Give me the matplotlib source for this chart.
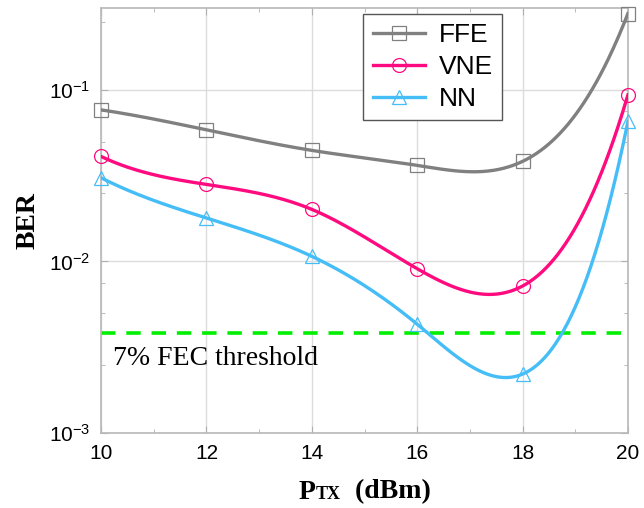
import numpy as np
import matplotlib.pyplot as plt
from matplotlib.ticker import LogLocator, NullFormatter, MultipleLocator
from matplotlib.offsetbox import TextArea, HPacker, AnchoredOffsetbox

plt.rcParams['font.family'] = 'Liberation Sans'
plt.rcParams['mathtext.fontset'] = 'custom'
plt.rcParams['mathtext.rm'] = 'Liberation Sans'
plt.rcParams['mathtext.it'] = 'Liberation Sans:italic'
plt.rcParams['mathtext.bf'] = 'Liberation Sans:bold'

# data
ptx = [10, 12, 14, 16, 18, 20]
ber_ffe = [0.0765, 0.0585, 0.0444, 0.0363, 0.0383, 0.279]
ber_vne = [0.0409, 0.0281, 0.0201, 0.00906, 0.00718, 0.0935]
ber_nn = [0.0307, 0.0179, 0.0107, 0.0043, 0.0022, 0.0655]
fec_threshold = 3.83e-3
series_names = ['FFE', 'VNE', 'NN']


def spline(x, y, xs):
    # not-a-knot cubic spline (like matlab's spline)
    x = np.asarray(x, float)
    y = np.asarray(y, float)
    n = len(x)
    h = np.diff(x)
    A = np.zeros((n, n))
    b = np.zeros(n)
    A[0, 0], A[0, 1], A[0, 2] = -1 / h[0], 1 / h[0] + 1 / h[1], -1 / h[1]
    A[-1, -3], A[-1, -2], A[-1, -1] = -1 / h[-2], 1 / h[-2] + 1 / h[-1], -1 / h[-1]
    for i in range(1, n - 1):
        A[i, i - 1] = h[i - 1]
        A[i, i] = 2 * (h[i - 1] + h[i])
        A[i, i + 1] = h[i]
        b[i] = 6 * ((y[i + 1] - y[i]) / h[i] - (y[i] - y[i - 1]) / h[i - 1])
    M = np.linalg.solve(A, b)
    idx = np.clip(np.searchsorted(x, xs) - 1, 0, n - 2)
    x0, x1 = x[idx], x[idx + 1]
    hh = x1 - x0
    return (M[idx] * (x1 - xs) ** 3 / (6 * hh) + M[idx + 1] * (xs - x0) ** 3 / (6 * hh)
            + (y[idx] / hh - M[idx] * hh / 6) * (x1 - xs)
            + (y[idx + 1] / hh - M[idx + 1] * hh / 6) * (xs - x0))


fig = plt.figure(figsize=(6.44, 5.08), dpi=100)
ax = fig.add_axes([0.157, 0.148, 0.818, 0.836])

xs = np.linspace(10, 20, 400)
styles = [('#808080', 's'), ('#ff0a7f', 'o'), ('#45bdf7', '^')]
for name, vals, (c, m) in zip(series_names, [ber_ffe, ber_vne, ber_nn], styles):
    curve = 10 ** spline(ptx, np.log10(vals), xs)
    ax.plot(xs, curve, color=c, lw=2.4, zorder=3)
    ax.plot(ptx, vals, ls='none', marker=m, ms=10, mfc='none', mec=c, mew=0.9,
            zorder=4, clip_on=False)
    ax.plot([], [], color=c, lw=2.4, marker=m, ms=10, mfc='none', mec=c, mew=0.9, label=name)

ax.axhline(fec_threshold, color='#00ee00', lw=2.6, ls=(0, (4, 3)), zorder=2)
ax.text(10.22, 2.72e-3, '7% FEC threshold', family='Liberation Serif', fontsize=20,
        va='center', ha='left')

ax.set_yscale('log')
ax.set_xlim(10, 20)
ax.set_ylim(1e-3, 0.3)
ax.xaxis.set_major_locator(MultipleLocator(2))
ax.xaxis.set_minor_locator(MultipleLocator(1))
ax.yaxis.set_major_locator(LogLocator(base=10, numticks=10))
ax.yaxis.set_minor_locator(LogLocator(base=10, subs=(2.5, 5, 7.5), numticks=10))
ax.yaxis.set_minor_formatter(NullFormatter())
ax.tick_params(which='both', direction='in', top=True, right=True, color='#b0b0b0')
ax.tick_params(which='major', length=5, labelsize=15, pad=8)
ax.tick_params(which='minor', length=3)
ax.grid(True, which='major', color='#dcdcdc', lw=1)
for s in ax.spines.values():
    s.set_color('#b8b8b8')
    s.set_linewidth(1.2)

ax.set_ylabel('BER', family='Liberation Serif', fontweight='bold', fontsize=20, labelpad=6)

parts = [TextArea('P', textprops=dict(family='Liberation Serif', fontweight='bold', fontsize=20)),
         TextArea('TX', textprops=dict(family='Liberation Serif', fontweight='bold', fontsize=13)),
         TextArea('  (dBm)', textprops=dict(family='Liberation Serif', fontweight='bold', fontsize=20))]
box = HPacker(children=parts, align='baseline', pad=0, sep=0)
anchored = AnchoredOffsetbox(loc='upper center', child=box, frameon=False,
                             bbox_to_anchor=(0.5, -0.11), bbox_transform=ax.transAxes,
                             borderpad=0, pad=0)
ax.add_artist(anchored)

leg = ax.legend(loc='upper right', bbox_to_anchor=(0.761, 0.986), borderaxespad=0,
                fontsize=19, fancybox=False, framealpha=1, edgecolor='#555555',
                handlelength=2.0, handletextpad=0.5, labelspacing=0.3, borderpad=0.35)
leg.get_frame().set_linewidth(1.0)

fig.savefig('out.png', dpi=100)
